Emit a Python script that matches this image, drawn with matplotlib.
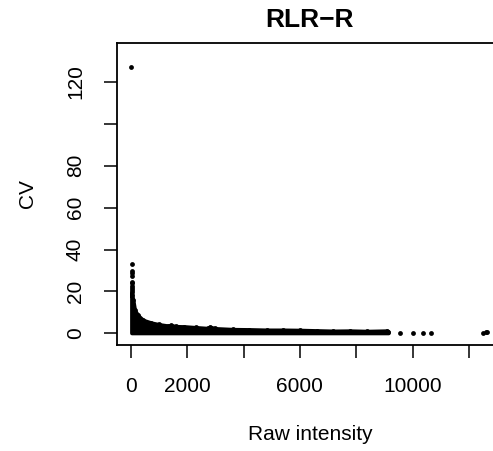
import numpy as np
import matplotlib.pyplot as plt

plt.rcParams['font.family'] = ['Liberation Sans', 'DejaVu Sans']

# upper edge of the dense point cloud (raw intensity, CV)
cloud_x = [20, 30, 70, 130, 250, 425, 720, 1000, 1300, 1420, 1600, 1900, 2300,
           2735, 2800, 3000, 3620, 4200, 4820, 5400, 6000, 6600, 7190, 7780,
           8400, 9080, 9140]
cloud_top = [19.5, 18.5, 16.0, 11.0, 8.5, 6.3, 5.0, 4.2, 3.6, 3.8, 3.3, 3.2, 2.8,
             2.4, 3.0, 2.3, 1.9, 1.8, 1.6, 1.6, 1.5, 1.3, 1.1, 1.2,
             1.0, 1.2, 0.8]
cloud_bottom = 0.2

# separate points
pts_x = [10, 20, 20, 20, 20, 20, 20, 20, 20, 20,
         9556, 10030, 10360, 10650, 12515, 12610, 12660]
pts_cv = [127.3, 33.1, 29.9, 28.6, 27.3, 24.6, 23.9, 22.6, 21.5, 20.5,
          0.1, 0.2, 0.1, 0.1, 0.2, 0.5, 0.8]

x_ticks = [0, 2000, 4000, 6000, 8000, 10000, 12000]
x_labels = ["0", "2000", "", "6000", "", "10000", ""]
y_ticks = [0, 20, 40, 60, 80, 100, 120]
y_labels = ["0", "20", "40", "60", "80", "", "120"]

fig = plt.figure(figsize=(4.93, 4.51), dpi=100)
ax = fig.add_axes([0.2367, 0.235, 0.7836, 0.6696])

ax.fill_between(cloud_x, cloud_bottom, cloud_top, color="black",
                linewidth=2.8, edgecolor="black", joinstyle="round")
ax.scatter(cloud_x, cloud_top, s=12, color="black", linewidths=0)
ax.scatter(pts_x, pts_cv, s=12, color="black", linewidths=0)

ax.set_xlim(-508, 13215)
ax.set_ylim(-5.6, 138.6)

ax.set_xticks(x_ticks)
ax.set_xticklabels(x_labels)
ax.set_yticks(y_ticks)
ax.set_yticklabels(y_labels, rotation=90, va="center")

for s in ax.spines.values():
    s.set_linewidth(1.3)
ax.tick_params(length=9.4, width=1.1, labelsize=15, pad=13.5, direction="out")

ax.set_title("RLR\u2212R", fontsize=19, fontweight="bold", pad=11.7)

ax.set_xlabel("Raw intensity", fontsize=15)
ax.xaxis.set_label_coords(309.9 / 493, 1 - 440 / 451, transform=fig.transFigure)
ax.xaxis.label.set_va("baseline")
ax.set_ylabel("CV", fontsize=15)
ax.yaxis.set_label_coords(27.5 / 493, 1 - 194 / 451, transform=fig.transFigure)
ax.yaxis.label.set_va("center")

fig.savefig("out.png", dpi=100)
